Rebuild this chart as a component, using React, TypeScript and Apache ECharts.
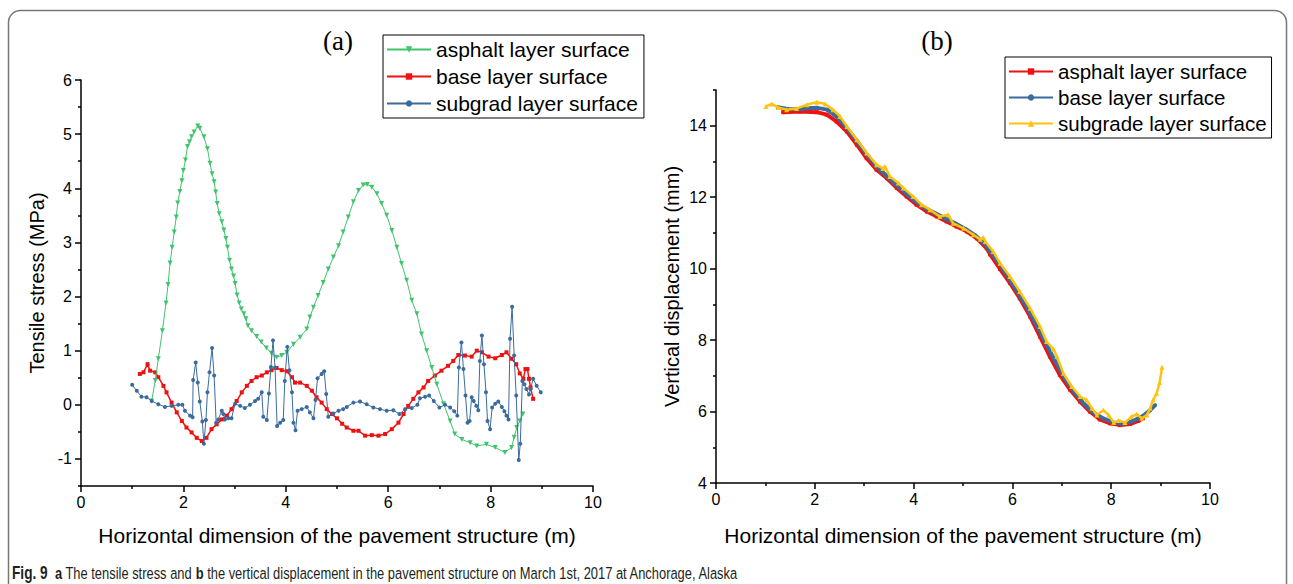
import { useEffect, useRef } from "react";
import * as echarts from "echarts";

// ---------- tick values ----------
const stressTicks = [-1, 0, 1, 2, 3, 4, 5, 6];
const stressMinorTicks = [-1.5, -0.5, 0.5, 1.5, 2.5, 3.5, 4.5, 5.5];
const dispTicks = [4, 6, 8, 10, 12, 14];
const dispMinorTicks = [5, 7, 9, 11, 13, 15];

// ---------- legend names ----------
const namesA = ["asphalt layer surface", "base layer surface", "subgrad layer surface"];
const namesB = ["asphalt layer surface", "base layer surface", "subgrade layer surface"];

// ---------- (a) tensile stress (MPa) vs horizontal dimension (m) ----------
const stressAsphalt: [number, number][] = [
  [1.38, 0.07], [1.45, 0.45], [1.51, 0.85], [1.59, 1.37], [1.66, 1.88], [1.70, 2.22], [1.74, 2.62],
  [1.78, 2.91], [1.82, 3.19], [1.86, 3.47], [1.89, 3.73], [1.93, 3.94], [1.97, 4.14], [2.00, 4.33],
  [2.04, 4.52], [2.08, 4.77], [2.12, 4.86], [2.16, 4.95], [2.21, 5.04], [2.28, 5.15], [2.32, 5.11],
  [2.40, 4.95], [2.47, 4.73], [2.52, 4.46], [2.56, 4.27], [2.60, 4.12], [2.63, 3.93], [2.66, 3.72],
  [2.70, 3.53], [2.75, 3.38], [2.79, 3.23], [2.83, 3.07], [2.86, 2.91], [2.90, 2.67], [2.94, 2.51],
  [2.98, 2.38], [3.01, 2.24], [3.05, 2.03], [3.09, 1.88], [3.13, 1.77], [3.18, 1.68], [3.22, 1.59],
  [3.26, 1.46], [3.33, 1.37], [3.43, 1.26], [3.52, 1.16], [3.62, 1.05], [3.72, 0.95], [3.82, 0.88],
  [3.92, 0.91], [4.02, 0.97], [4.15, 1.12], [4.28, 1.25], [4.41, 1.40], [4.47, 1.62], [4.54, 1.80],
  [4.63, 2.02], [4.73, 2.26], [4.83, 2.51], [4.93, 2.73], [5.03, 2.94], [5.12, 3.19], [5.22, 3.47],
  [5.32, 3.75], [5.42, 3.96], [5.51, 4.06], [5.59, 4.07], [5.68, 4.02], [5.78, 3.90], [5.87, 3.72],
  [5.97, 3.50], [6.07, 3.22], [6.17, 2.91], [6.26, 2.61], [6.36, 2.30], [6.46, 1.93], [6.56, 1.68],
  [6.65, 1.31], [6.75, 1.00], [6.85, 0.69], [6.95, 0.38], [7.08, 0.02], [7.21, -0.30], [7.30, -0.54],
  [7.44, -0.64], [7.60, -0.70], [7.73, -0.76], [7.92, -0.73], [8.09, -0.79], [8.28, -0.88],
  [8.41, -0.79], [8.46, -0.60], [8.51, -0.42], [8.57, -0.30], [8.63, -0.17],
];

const stressBase: [number, number][] = [
  [1.15, 0.57], [1.22, 0.60], [1.30, 0.75], [1.35, 0.63], [1.45, 0.60], [1.51, 0.51], [1.61, 0.35],
  [1.67, 0.23], [1.77, 0.04], [1.87, -0.14], [1.97, -0.30], [2.06, -0.42], [2.16, -0.51], [2.26, -0.61],
  [2.36, -0.67], [2.45, -0.61], [2.55, -0.45], [2.65, -0.36], [2.75, -0.27], [2.85, -0.20], [2.94, -0.08],
  [3.04, 0.07], [3.14, 0.23], [3.24, 0.35], [3.33, 0.44], [3.43, 0.51], [3.53, 0.54], [3.63, 0.60],
  [3.72, 0.64], [3.82, 0.68], [3.92, 0.64], [4.02, 0.62], [4.12, 0.51], [4.18, 0.41], [4.28, 0.41],
  [4.41, 0.35], [4.51, 0.26], [4.60, 0.14], [4.70, 0.04], [4.80, -0.08], [4.90, -0.17], [5.00, -0.25],
  [5.10, -0.35], [5.19, -0.42], [5.32, -0.48], [5.42, -0.48], [5.55, -0.57], [5.68, -0.56], [5.81, -0.57],
  [5.94, -0.54], [6.07, -0.45], [6.20, -0.33], [6.30, -0.17], [6.39, -0.02], [6.49, 0.11], [6.59, 0.23],
  [6.69, 0.32], [6.78, 0.44], [6.91, 0.54], [7.04, 0.63], [7.17, 0.72], [7.27, 0.81], [7.37, 0.92],
  [7.50, 0.91], [7.63, 0.89], [7.73, 1.00], [7.83, 0.97], [7.96, 0.89], [8.09, 0.86], [8.22, 0.92],
  [8.31, 0.97], [8.41, 0.85], [8.50, 0.75], [8.57, 0.58], [8.64, 0.48], [8.68, 0.66], [8.72, 0.66],
  [8.75, 0.48], [8.78, 0.32], [8.83, 0.11],
];

const stressSubgrade: [number, number][] = [
  [1.00, 0.37], [1.09, 0.26], [1.18, 0.15], [1.28, 0.14], [1.38, 0.07], [1.51, 0.01], [1.64, -0.04],
  [1.77, -0.02], [1.90, 0.00], [1.98, 0.00], [2.03, -0.11], [2.13, -0.20], [2.18, -0.23], [2.19, 0.46],
  [2.24, 0.78], [2.28, 0.41], [2.32, 0.06], [2.37, -0.31], [2.40, -0.72], [2.44, -0.28], [2.47, 0.23],
  [2.51, 0.60], [2.56, 1.05], [2.60, 0.54], [2.64, -0.33], [2.68, -0.27], [2.75, -0.11], [2.78, -0.17],
  [2.81, -0.27], [2.88, -0.25], [2.94, -0.25], [3.01, 0.02], [3.11, -0.02], [3.20, -0.06], [3.30, 0.00],
  [3.40, 0.07], [3.46, 0.11], [3.53, 0.23], [3.56, -0.22], [3.63, -0.28], [3.67, 0.21], [3.71, 0.70],
  [3.75, 1.19], [3.79, 0.69], [3.83, -0.39], [3.89, -0.33], [3.95, -0.28], [3.98, 0.44], [4.03, 1.07],
  [4.07, 0.64], [4.12, 0.23], [4.15, -0.33], [4.19, -0.47], [4.23, -0.11], [4.31, -0.08], [4.41, -0.04],
  [4.47, -0.14], [4.54, -0.25], [4.58, 0.09], [4.62, 0.49], [4.70, 0.57], [4.75, 0.62], [4.79, 0.20],
  [4.83, -0.22], [4.93, -0.16], [5.03, -0.11], [5.12, -0.08], [5.19, -0.04], [5.32, 0.04], [5.45, 0.06],
  [5.58, 0.01], [5.71, -0.05], [5.84, -0.08], [5.97, -0.11], [6.10, -0.10], [6.22, -0.17], [6.33, -0.08],
  [6.46, -0.06], [6.57, 0.00], [6.62, 0.12], [6.72, 0.15], [6.80, 0.17], [6.89, 0.07], [7.00, -0.05],
  [7.11, 0.00], [7.21, -0.05], [7.29, -0.12], [7.35, -0.20], [7.38, 0.69], [7.43, 1.15], [7.47, 0.66],
  [7.51, 0.17], [7.55, -0.33], [7.59, -0.30], [7.63, 0.14], [7.67, 0.07], [7.72, -0.02], [7.76, -0.10],
  [7.79, 0.81], [7.83, 1.28], [7.87, 0.75], [7.91, 0.23], [7.94, -0.30], [7.99, -0.45], [8.03, -0.05],
  [8.09, 0.02], [8.15, 0.06], [8.22, -0.04], [8.27, -0.12], [8.31, -0.20], [8.35, -0.27], [8.38, 1.22],
  [8.42, 1.81], [8.46, 0.91], [8.50, 0.17], [8.55, -1.02], [8.58, -0.72], [8.62, 0.44], [8.66, 0.38],
  [8.70, 0.29], [8.75, 0.19], [8.78, 0.29], [8.83, 0.48], [8.90, 0.35], [8.98, 0.23],
];

// ---------- (b) vertical displacement (mm) vs horizontal dimension (m) ----------
const dispAsphalt: [number, number][] = [
  [1.36, 14.38], [1.70, 14.40], [2.04, 14.38], [2.24, 14.31], [2.44, 14.12], [2.65, 13.84], [2.85, 13.47],
  [3.05, 13.09], [3.25, 12.77], [3.46, 12.53], [3.66, 12.26], [3.86, 12.02], [4.06, 11.79], [4.27, 11.60],
  [4.47, 11.46], [4.67, 11.32], [4.87, 11.18], [5.08, 11.04], [5.28, 10.85], [5.48, 10.57], [5.55, 10.40],
  [5.75, 9.99], [5.95, 9.60], [6.15, 9.17], [6.36, 8.66], [6.56, 8.10], [6.76, 7.54], [6.96, 7.03],
  [7.17, 6.61], [7.37, 6.28], [7.57, 6.00], [7.77, 5.78], [7.98, 5.67], [8.18, 5.62], [8.38, 5.65],
  [8.55, 5.74], [8.64, 5.81],
];

const dispBase: [number, number][] = [
  [1.25, 14.52], [1.45, 14.47], [1.65, 14.46], [1.85, 14.49], [2.05, 14.50], [2.25, 14.45], [2.45, 14.25],
  [2.65, 13.93], [2.85, 13.58], [3.05, 13.20], [3.25, 12.86], [3.45, 12.60], [3.65, 12.34], [3.85, 12.10],
  [4.05, 11.87], [4.25, 11.68], [4.45, 11.54], [4.65, 11.40], [4.85, 11.26], [5.05, 11.11], [5.25, 10.93],
  [5.45, 10.68], [5.65, 10.30], [5.85, 9.90], [6.05, 9.47], [6.25, 9.02], [6.45, 8.52], [6.65, 7.98],
  [6.85, 7.45], [7.05, 6.95], [7.25, 6.55], [7.45, 6.22], [7.65, 5.96], [7.85, 5.80], [8.05, 5.69],
  [8.25, 5.66], [8.45, 5.74], [8.65, 5.88], [8.79, 6.04], [8.89, 6.18],
];

const dispSubgrade: [number, number][] = [
  [1.01, 14.54], [1.13, 14.61], [1.26, 14.51], [1.43, 14.45], [1.63, 14.48], [1.84, 14.59], [2.04, 14.66],
  [2.21, 14.61], [2.37, 14.45], [2.51, 14.26], [2.65, 13.98], [2.85, 13.61], [3.05, 13.24], [3.25, 12.91],
  [3.38, 12.80], [3.42, 12.86], [3.52, 12.58], [3.69, 12.40], [3.79, 12.26], [3.99, 12.02], [4.16, 11.79],
  [4.33, 11.65], [4.53, 11.46], [4.70, 11.51], [4.80, 11.27], [5.01, 11.13], [5.21, 10.95], [5.35, 10.82],
  [5.41, 10.87], [5.45, 10.76], [5.61, 10.48], [5.75, 10.15], [5.95, 9.78], [6.15, 9.36], [6.36, 8.89],
  [6.56, 8.38], [6.69, 7.96], [6.83, 7.75], [6.90, 7.54], [7.03, 7.07], [7.20, 6.70], [7.37, 6.42],
  [7.50, 6.33], [7.61, 6.09], [7.71, 5.90], [7.84, 6.04], [7.95, 5.90], [8.05, 5.69], [8.15, 5.75],
  [8.28, 5.69], [8.41, 5.86], [8.52, 5.93], [8.62, 5.81], [8.72, 5.90], [8.79, 6.09], [8.85, 6.33],
  [8.92, 6.51], [8.98, 6.81], [9.03, 7.24],
];

const SANS = "Liberation Sans, Arial, sans-serif";
const SERIF = "Liberation Serif, Times New Roman, serif";
const GREEN = "#3FC46D";
const RED = "#EE1111";
const BLUE = "#3A6B9E";
const YELLOW = "#FFC20E";

const axisLineStyle = { color: "#000", width: 1.5 };

function xAxisCfg(gridIndex: number, nameGap: number) {
  return {
    gridIndex,
    type: "value",
    min: 0,
    max: 10,
    interval: 2,
    name: "Horizontal dimension of the pavement structure (m)",
    nameLocation: "middle",
    nameGap,
    nameTextStyle: { fontFamily: SANS, fontSize: 21, color: "#000" },
    axisLine: { show: true, onZero: false, lineStyle: axisLineStyle },
    axisTick: { show: true, length: 6, lineStyle: axisLineStyle },
    minorTick: { show: true, splitNumber: 2, length: 3, lineStyle: axisLineStyle },
    axisLabel: { fontFamily: SANS, fontSize: 16, color: "#000", margin: 8 },
    splitLine: { show: false },
    minorSplitLine: { show: false },
  };
}

function yAxisMajor(gridIndex: number, min: number, max: number, ticks: number[], name: string) {
  return {
    gridIndex,
    type: "value",
    min,
    max,
    position: "left",
    name,
    nameLocation: "middle",
    nameGap: 34,
    nameTextStyle: { fontFamily: SANS, fontSize: 20, color: "#000" },
    axisLine: { show: true, onZero: false, lineStyle: axisLineStyle },
    axisTick: { show: true, length: 6, customValues: ticks, lineStyle: axisLineStyle },
    axisLabel: { customValues: ticks, fontFamily: SANS, fontSize: 16, color: "#000", margin: 9 },
    splitLine: { show: false },
  };
}

function yAxisMinor(gridIndex: number, min: number, max: number, ticks: number[]) {
  return {
    gridIndex,
    type: "value",
    min,
    max,
    position: "left",
    offset: 0,
    axisLine: { show: false },
    axisTick: { show: true, length: 3, customValues: ticks, lineStyle: axisLineStyle },
    axisLabel: { show: false },
    splitLine: { show: false },
  };
}

function lineSeries(
  name: string,
  data: [number, number][],
  color: string,
  symbol: string,
  symbolSize: number,
  lineWidth: number,
  axisIdx: { x: number; y: number },
  z: number,
  symbolRotate = 0
) {
  return {
    type: "line",
    name,
    data,
    xAxisIndex: axisIdx.x,
    yAxisIndex: axisIdx.y,
    symbol,
    symbolSize,
    symbolRotate,
    showSymbol: true,
    smooth: false,
    z,
    itemStyle: { color, borderWidth: 0 },
    lineStyle: { color, width: lineWidth },
  };
}

export default function App() {
  const ref = useRef<HTMLDivElement>(null);

  useEffect(() => {
    if (!ref.current) return;
    const chart = echarts.init(ref.current, null, { renderer: "svg" });

    const legendStyle = {
      orient: "vertical",
      backgroundColor: "#fff",
      borderColor: "#000",
      borderWidth: 1,
      borderRadius: 0,
      itemWidth: 44,
      itemHeight: 8,
      selectedMode: false,
      formatter: (n: string) => n.replace(/^[ab]:/, ""),
    };

    chart.setOption({
      animation: false,
      backgroundColor: "#fff",
      grid: [
        { left: 81, top: 80, width: 512, height: 406, containLabel: false },
        { left: 716, top: 90, width: 494, height: 393, containLabel: false },
      ],
      xAxis: [xAxisCfg(0, 39), xAxisCfg(1, 42)],
      yAxis: [
        yAxisMajor(0, -1.5, 6, stressTicks, "Tensile stress (MPa)"),
        yAxisMinor(0, -1.5, 6, stressMinorTicks),
        yAxisMajor(1, 4, 15, dispTicks, "Vertical displacement (mm)"),
        yAxisMinor(1, 4, 15, dispMinorTicks),
      ],
      legend: [
        {
          ...legendStyle,
          left: 383,
          top: 35,
          padding: [4, 6, 4, 3],
          itemGap: 6,
          textStyle: { fontFamily: SANS, fontSize: 21, color: "#000" },
          data: namesA.map((n) => "a:" + n),
        },
        {
          ...legendStyle,
          left: 1005,
          top: 57,
          padding: [4, 5, 4, 3],
          itemGap: 5,
          textStyle: { fontFamily: SANS, fontSize: 20.5, color: "#000" },
          data: namesB.map((n) => "b:" + n),
        },
      ],
      series: [
        lineSeries("a:" + namesA[0], stressAsphalt, GREEN, "triangle", 5, 1, { x: 0, y: 0 }, 3, 180),
        lineSeries("a:" + namesA[1], stressBase, RED, "rect", 4, 1.5, { x: 0, y: 0 }, 2),
        lineSeries("a:" + namesA[2], stressSubgrade, BLUE, "circle", 4, 1, { x: 0, y: 0 }, 4),
        lineSeries("b:" + namesB[0], dispAsphalt, RED, "rect", 4, 4, { x: 1, y: 2 }, 2),
        lineSeries("b:" + namesB[1], dispBase, BLUE, "circle", 4, 4, { x: 1, y: 2 }, 3),
        lineSeries("b:" + namesB[2], dispSubgrade, YELLOW, "triangle", 5, 2.5, { x: 1, y: 2 }, 4),
      ],
      graphic: [
        {
          type: "rect",
          silent: true,
          z: -1,
          shape: { x: 8.5, y: 10.5, width: 1278, height: 640, r: 12 },
          style: { fill: "none", stroke: "#777", lineWidth: 1.5 },
        },
        {
          type: "text",
          x: 338,
          y: 41,
          style: {
            text: "(a)",
            fontFamily: SERIF,
            fontSize: 27,
            fill: "#000",
            align: "center",
            verticalAlign: "middle",
          },
        },
        {
          type: "text",
          x: 937,
          y: 41,
          style: {
            text: "(b)",
            fontFamily: SERIF,
            fontSize: 27,
            fill: "#000",
            align: "center",
            verticalAlign: "middle",
          },
        },
        {
          type: "text",
          x: 12,
          y: 573,
          scaleX: 0.76,
          style: {
            text:
              "{f|Fig. 9}  {b|a} The tensile stress and {b|b} the vertical displacement in the pavement structure on March 1st, 2017 at Anchorage, Alaska",
            fontFamily: SANS,
            fontSize: 17,
            fill: "#231F20",
            verticalAlign: "middle",
            rich: {
              f: { fontFamily: SANS, fontSize: 18, fontWeight: "bold", fill: "#231F20" },
              b: { fontFamily: SANS, fontSize: 17, fontWeight: "bold", fill: "#231F20" },
            },
          },
        },
      ],
    });

    return () => chart.dispose();
  }, []);

  return (
    <div
      ref={ref}
      style={{ position: "fixed", left: 0, top: 0, width: 1293, height: 584, background: "#fff" }}
    />
  );
}
